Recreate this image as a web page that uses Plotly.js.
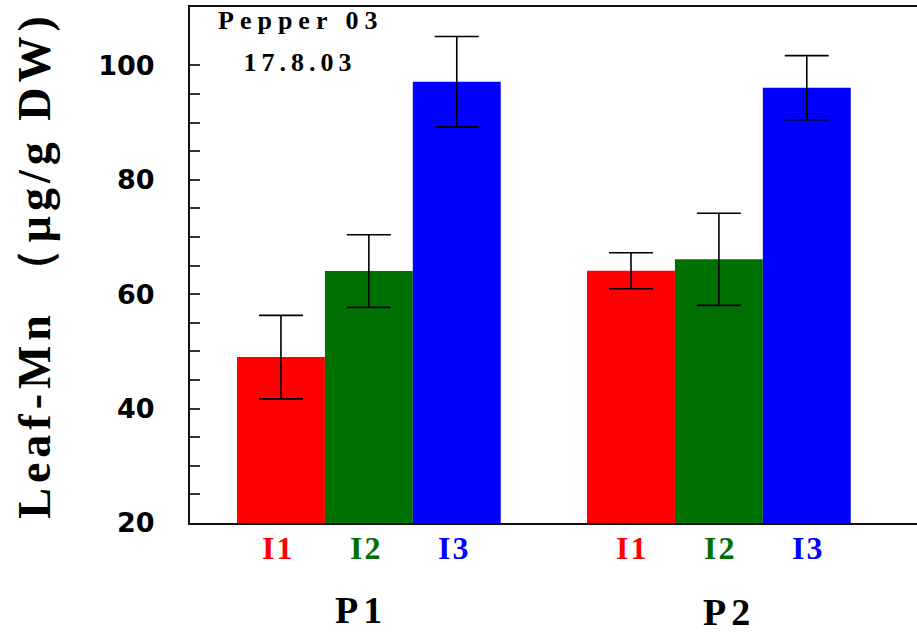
<!DOCTYPE html>
<html>
<head>
<meta charset="utf-8">
<script src="https://cdn.plot.ly/plotly-3.0.1.min.js"></script>
<style>
  html, body { margin: 0; padding: 0; background: #fff; }
  #chart { width: 917px; height: 636px; }
  .ytitle { letter-spacing: 5px; }
  .annotation[data-index="0"] text { letter-spacing: 6px; }
  .annotation[data-index="1"] text { letter-spacing: 5px; }
  .annotation[data-index="2"] text, .annotation[data-index="3"] text, .annotation[data-index="4"] text,
  .annotation[data-index="5"] text, .annotation[data-index="6"] text, .annotation[data-index="7"] text { letter-spacing: 2px; }
  .annotation[data-index="8"] text, .annotation[data-index="9"] text { letter-spacing: 5px; }
</style>
</head>
<body>
<div id="chart"></div>
<script>
// ---- data ----
const groups = ['P1', 'P2'];
const treatments = ['I1', 'I2', 'I3'];
const valuesI1 = [49.0, 64.1];
const valuesI2 = [64.05, 66.1];
const valuesI3 = [97.15, 96.1];
const errorsI1 = [7.3, 3.15];
const errorsI2 = [6.35, 8.05];
const errorsI3 = [7.9, 5.6];
const colors = ['#ff0000', '#007000', '#0000ff'];
const noteLines = ['Pepper 03', '17.8.03'];
const yTitle = 'Leaf-Mn （µg/g DW)';

const values = [valuesI1, valuesI2, valuesI3];
const errors = [errorsI1, errorsI2, errorsI3];

const bargap = 0.2466;
const traces = treatments.map((t, i) => ({
  type: 'bar',
  name: t,
  x: groups,
  y: values[i],
  marker: { color: colors[i], line: { width: 0 } },
  error_y: { type: 'data', array: errors[i], visible: true, color: '#000', thickness: 1.6, width: 22 },
  hoverinfo: 'x+y+name'
}));

const annotations = [];
annotations.push({ xref: 'paper', yref: 'paper', x: 0.1515, y: 0.9735, xanchor: 'center', yanchor: 'middle',
  text: noteLines[0], showarrow: false, font: { family: 'Liberation Serif', size: 26, color: '#000', weight: 'bold' } });
annotations.push({ xref: 'paper', yref: 'paper', x: 0.151, y: 0.893, xanchor: 'center', yanchor: 'middle',
  text: noteLines[1], showarrow: false, font: { family: 'Liberation Serif', size: 26, color: '#000', weight: 'bold' } });
const gw = 1 - bargap;
const labelShift = [-3, 1];
groups.forEach((g, gi) => {
  treatments.forEach((t, ti) => {
    annotations.push({ xref: 'x', yref: 'paper', x: gi + (ti - 1) * gw / 3, y: 0, yanchor: 'middle', yshift: -25,
      xshift: labelShift[gi],
      text: t, showarrow: false, font: { family: 'Liberation Serif', size: 32, color: colors[ti], weight: 'bold' } });
  });
});
const groupShiftX = [-8, 10];
const groupShiftY = [-87, -89];
groups.forEach((g, gi) => {
  annotations.push({ xref: 'x', yref: 'paper', x: gi, y: 0, yanchor: 'middle', yshift: groupShiftY[gi], xshift: groupShiftX[gi],
    text: g, showarrow: false, font: { family: 'Liberation Serif', size: 38, color: '#000', weight: 'bold' } });
});

const minorVals = [];
for (let v = 25; v < 100; v += 5) { if (v % 20 !== 0) minorVals.push(v); }

const layout = {
  width: 917, height: 636,
  margin: { l: 190, r: 0, t: 7, b: 113 },
  paper_bgcolor: '#fff', plot_bgcolor: '#fff',
  showlegend: false,
  barmode: 'group',
  bargap: bargap,
  bargroupgap: 0,
  xaxis: {
    type: 'category', categoryorder: 'array', categoryarray: groups,
    range: [-0.511, 1.566],
    showticklabels: false, ticks: '', showgrid: false, zeroline: false,
    showline: true, mirror: true, linecolor: '#111', linewidth: 2
  },
  yaxis: {
    range: [20, 110.2],
    tick0: 20, dtick: 20,
    ticks: 'inside', ticklen: 10, tickwidth: 2, tickcolor: '#333',
    minor: { tickvals: minorVals, ticks: 'inside', ticklen: 10, tickwidth: 2, tickcolor: '#333', showgrid: false },
    showgrid: false, zeroline: false,
    showline: true, linecolor: '#111', linewidth: 2,
    ticklabelstandoff: 28,
    tickfont: { family: 'DejaVu Sans', size: 27, color: '#000', weight: 'bold' },
    title: { text: yTitle, standoff: 33, font: { family: 'Liberation Serif', size: 46, color: '#000', weight: 'bold' } }
  },
  annotations: annotations
};

Plotly.newPlot('chart', traces, layout, { displayModeBar: false, staticPlot: true });
</script>
</body>
</html>
